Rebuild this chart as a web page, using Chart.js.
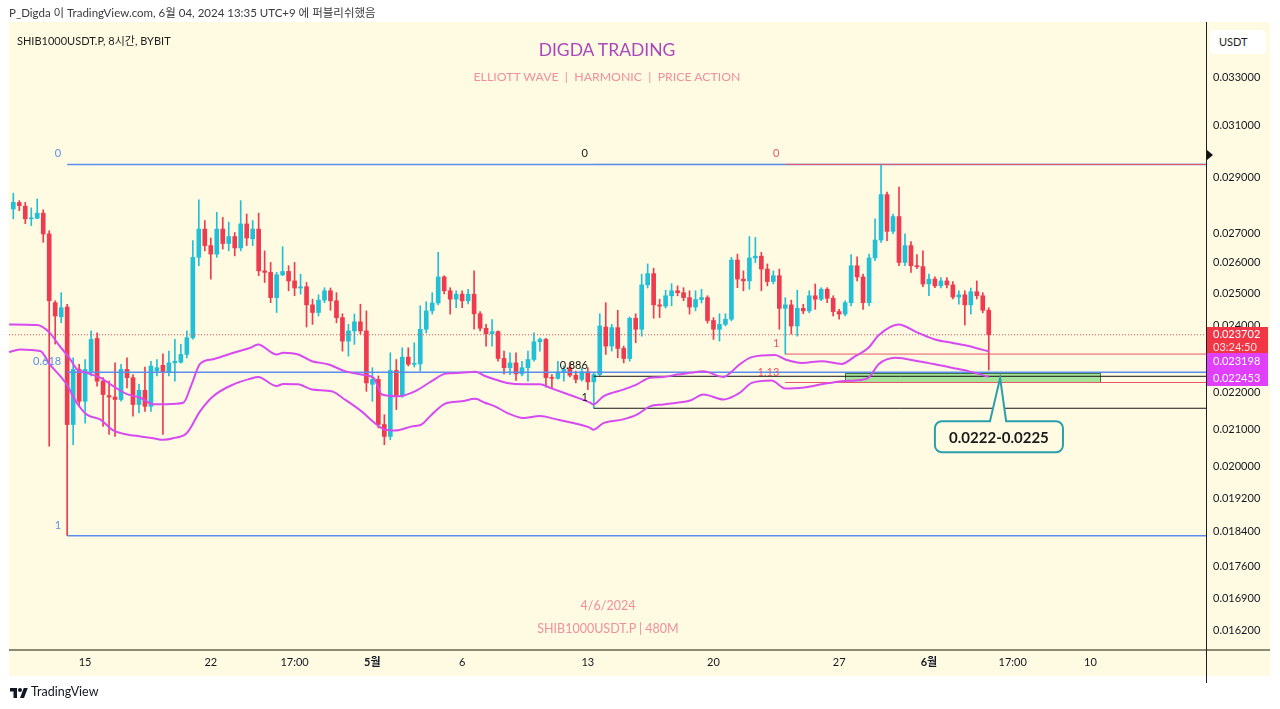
<!DOCTYPE html>
<html><head><meta charset="utf-8">
<script src="https://cdn.jsdelivr.net/npm/chart.js@4.4.1/dist/chart.umd.min.js"></script>
<style>
html,body{margin:0;padding:0;background:#fff;width:1280px;height:709px;overflow:hidden;font-family:Lato,'Noto Sans CJK KR',sans-serif;}
#wrap{position:relative;width:1280px;height:709px;}
canvas{position:absolute;left:0;top:0;}
.t{position:absolute;white-space:nowrap;line-height:1;}
.c{transform:translateX(-50%);}
</style></head><body>
<div id="wrap">
<canvas id="c" width="1280" height="709"></canvas>
<div class="t" style="left:9px;top:7px;font-size:11.5px;color:#3a3a3a">P_Digda 이 TradingView.com, 6월 04, 2024 13:35 UTC+9 에 퍼블리쉬했음</div>
<div class="t" style="left:17px;top:35px;font-size:11px;color:#1e1e1e">SHIB1000USDT.P, 8시간, BYBIT</div>
<div class="t" style="left:1210px;top:30px;width:56px;height:24px;background:#fff;border-radius:4px;font-size:11px;color:#1e1e1e;line-height:24px;text-indent:9px">USDT</div>
<div class="t c" style="left:607px;top:41px;font-size:17.5px;color:#ab47bc">DIGDA TRADING</div>
<div class="t c" style="left:607px;top:71px;font-size:12.3px;color:#f0909c">ELLIOTT WAVE &nbsp;| &nbsp;HARMONIC &nbsp;| &nbsp;PRICE ACTION</div>
<div class="t c" style="left:608px;top:600px;font-size:12.5px;color:#f0909c">4/6/2024</div>
<div class="t c" style="left:608px;top:623px;font-size:12.5px;color:#f0909c">SHIB1000USDT.P | 480M</div>
<svg class="t" style="left:10px;top:687px" width="18" height="12" viewBox="0 0 36 24"><path d="M14 22H7V9H0V2h14v20zM28 22h-8l7.5-20h8L28 22zM20 10a4 4 0 1 0 0-8 4 4 0 0 0 0 8z" fill="#131722"/></svg>
<div class="t" style="left:31px;top:686px;font-size:12.5px;color:#131722">TradingView</div>
</div>
<script>
// ---- data (8h candles, SHIB1000USDT.P) ----
const opens = [.02786,.02809,.02796,.02751,.02753,.02771,.02698,.02470,.02426,.02456,
.02112,.02267,.02176,.02262,.02359,.02233,.02192,.02188,.02181,.02267,
.02243,.02167,.02207,.02162,.02262,.02279,.02259,.02286,.02288,.02311,
.02361,.02618,.02715,.02658,.02629,.02715,.02665,.02689,.02650,.02733,
.02681,.02715,.02573,.02568,.02486,.02560,.02571,.02540,.02517,.02521,
.02463,.02439,.02478,.02508,.02476,.02423,.02351,.02382,.02410,.02382,
.02224,.02238,.02112,.02080,.02264,.02190,.02303,.02282,.02283,.02387,
.02444,.02469,.02553,.02508,.02481,.02497,.02476,.02497,.02435,.02390,
.02373,.02380,.02299,.02272,.02286,.02254,.02272,.02296,.02349,.02356,
.02243,.02241,.02260,.02272,.02250,.02238,.02260,.02231,.02252,.02394,
.02336,.02392,.02329,.02299,.02421,.02387,.02527,.02564,.02463,.02459,
.02492,.02508,.02502,.02486,.02456,.02480,.02486,.02414,.02387,.02402,
.02418,.02609,.02546,.02540,.02616,.02622,.02579,.02538,.02557,.02452,
.02463,.02397,.02452,.02444,.02492,.02481,.02513,.02484,.02442,.02434,
.02470,.02590,.02553,.02470,.02616,.02677,.02838,.02707,.02759,.02601,
.02658,.02590,.02587,.02530,.02546,.02524,.02540,.02527,.02488,.02495,
.02463,.02505,.02492,.02446];
const highs = [.02843,.02816,.02810,.02790,.02822,.02783,.02709,.02476,.02502,.02465,
.02301,.02282,.02296,.02382,.02376,.02243,.02233,.02286,.02282,.02301,
.02252,.02224,.02274,.02291,.02296,.02313,.02321,.02356,.02341,.02382,
.02675,.02819,.02745,.02684,.02774,.02756,.02739,.02703,.02816,.02768,
.02745,.02771,.02640,.02601,.02568,.02654,.02590,.02601,.02562,.02535,
.02481,.02495,.02518,.02517,.02502,.02435,.02402,.02434,.02465,.02444,
.02272,.02248,.02139,.02316,.02296,.02331,.02331,.02346,.02460,.02473,
.02502,.02635,.02557,.02518,.02508,.02508,.02513,.02573,.02442,.02402,
.02417,.02382,.02321,.02316,.02316,.02291,.02321,.02376,.02361,.02359,
.02252,.02291,.02277,.02286,.02262,.02272,.02272,.02257,.02435,.02470,
.02402,.02446,.02336,.02425,.02435,.02562,.02596,.02582,.02481,.02510,
.02531,.02524,.02518,.02508,.02508,.02513,.02492,.02423,.02435,.02435,
.02618,.02629,.02573,.02689,.02686,.02635,.02596,.02573,.02579,.02486,
.02478,.02510,.02465,.02508,.02530,.02518,.02518,.02492,.02449,.02476,
.02627,.02620,.02562,.02629,.02751,.02950,.02847,.02768,.02865,.02698,
.02672,.02627,.02640,.02562,.02553,.02551,.02551,.02538,.02508,.02508,
.02517,.02540,.02502,.02454];
const lows = [.02751,.02780,.02734,.02727,.02751,.02669,.02054,.02342,.02407,.01831,
.02058,.02162,.02116,.02248,.02219,.02107,.02085,.02080,.02176,.02214,
.02135,.02144,.02148,.02148,.02248,.02085,.02248,.02233,.02285,.02301,
.02357,.02590,.02640,.02546,.02618,.02646,.02640,.02623,.02640,.02658,
.02658,.02557,.02535,.02470,.02439,.02557,.02508,.02492,.02497,.02394,
.02402,.02428,.02470,.02446,.02407,.02321,.02306,.02341,.02372,.02204,
.02176,.02103,.02058,.02071,.02153,.02187,.02277,.02274,.02262,.02376,
.02434,.02463,.02498,.02434,.02454,.02454,.02466,.02387,.02382,.02336,
.02336,.02291,.02254,.02252,.02235,.02248,.02233,.02291,.02321,.02216,
.02214,.02239,.02233,.02245,.02228,.02233,.02209,.021566,.02248,.02311,
.02321,.02301,.02286,.02291,.02346,.02366,.02517,.02421,.02423,.02453,
.02460,.02492,.02476,.02434,.02444,.02469,.02406,.02356,.02351,.02397,
.02413,.02518,.02508,.02513,.02600,.02508,.02524,.02530,.02387,.023121,
.02372,.02366,.02435,.02438,.02449,.02476,.02470,.02428,.02418,.02428,
.02460,.02540,.02449,.02460,.02607,.02669,.02675,.02699,.02590,.02590,
.02568,.02580,.02521,.02492,.02518,.02517,.02517,.02482,.02465,.02400,
.02434,.02482,.02438,.02265];
const closes = [.02810,.02798,.02751,.02753,.02771,.02698,.02476,.02428,.02454,.02112,
.02267,.02176,.02267,.02356,.02233,.02195,.02188,.02181,.02267,.02243,
.02167,.02207,.02162,.02277,.02272,.02260,.02286,.02291,.02311,.02361,
.02618,.02715,.02658,.02629,.02715,.02665,.02689,.02650,.02733,.02684,
.02715,.02573,.02568,.02486,.02560,.02571,.02540,.02517,.02521,.02463,
.02439,.02478,.02508,.02476,.02423,.02351,.02382,.02410,.02382,.02228,
.02238,.02112,.02080,.02264,.02190,.02303,.02282,.02283,.02387,.02444,
.02469,.02553,.02508,.02481,.02497,.02476,.02497,.02435,.02390,.02373,
.02380,.02299,.02272,.02286,.02254,.02272,.02296,.02349,.02356,.02243,
.02241,.02260,.02267,.02250,.02238,.02260,.02231,.02252,.02397,.02336,
.02392,.02329,.02299,.02421,.02387,.02527,.02564,.02463,.02459,.02492,
.02508,.02502,.02486,.02456,.02480,.02486,.02414,.02387,.02402,.02418,
.02609,.02546,.02540,.02616,.02622,.02579,.02538,.02557,.02452,.02463,
.02397,.02452,.02444,.02492,.02481,.02513,.02484,.02442,.02434,.02470,
.02590,.02553,.02470,.02616,.02677,.02838,.02707,.02759,.02601,.02658,
.02590,.02587,.02530,.02546,.02524,.02540,.02527,.02488,.02495,.02463,
.02505,.02492,.02446,.023702];

// envelope indicator (candle index, value)
const upperIdx = [-0.7,4,6.1,7.5,9.5,10.6,12.3,14.5,16.7,19,21.2,23.4,25.6,28.4,29.8,31.2,33.4,36.8,39.6,40.9,44,45.1,47.6,49.9,52.6,55.4,58.2,60.2,61.6,64.3,67.1,69.9,72.1,74.9,77.2,78.8,80.5,82.5,85.2,88,89.7,93.6,96.4,96.9,98.6,101.9,104.2,106.4,108.6,110.9,113.1,115.3,118.7,119.8,121.4,123.4,127.3,129,131.8,135.1,138.4,140.7,142.9,144.6,147.9,151.2,154,156.8,159.6,163];
const upperVal = [.02402,.02400,.02376,.02342,.02297,.02268,.02257,.02243,.02219,.02196,.02186,.02168,.02168,.02172,.02224,.02283,.02297,.02316,.02331,.02341,.02311,.02316,.02311,.02291,.02282,.02262,.02252,.02243,.02195,.02190,.02204,.02233,.02254,.02257,.02260,.02248,.02238,.02228,.02224,.02224,.02214,.02190,.02172,.02167,.02190,.02209,.02224,.02243,.02245,.02252,.02257,.02262,.02245,.02257,.02282,.02303,.02309,.02296,.02286,.02291,.02283,.02306,.02331,.02369,.02402,.02376,.02356,.02346,.02336,.023198];
const lowerIdx = [-0.7,1.1,4.5,6.1,8.9,10.6,12.3,14.5,16.7,19,21.2,23.4,25.1,26.7,29,31.2,33.4,36.8,39.6,40.9,44,45.1,47.6,49.9,53.2,55.4,58.2,60.4,62.1,63.8,66.6,68.2,69.9,72.1,74.9,77.2,78.8,80.5,82.5,85.2,88,90.8,93.6,96.4,96.9,98.6,101.9,104.2,106.4,108.6,110.9,113.1,115.3,118.7,119.8,121.4,123.4,126.7,129,131.8,135.1,138.4,140.7,142.9,144.6,147.4,151.2,154,156.8,159.6,163];
const lowerVal = [.02318,.02326,.02321,.02282,.02224,.02172,.02139,.02126,.02096,.02085,.02080,.02075,.02071,.02075,.02089,.02148,.02190,.02224,.02240,.02245,.02219,.02225,.02224,.02209,.02204,.02181,.02148,.02116,.02098,.02096,.02107,.02112,.02139,.02169,.02176,.02183,.02172,.02162,.02144,.02130,.02135,.02126,.02116,.02103,.02098,.02116,.02126,.02139,.02162,.02167,.02172,.02178,.02195,.02181,.02186,.02200,.02228,.02235,.02212,.02214,.02224,.02233,.02235,.02243,.02282,.02301,.02291,.02282,.02272,.02262,.022453];

// axis ticks
const yTicks = [0.033,0.031,0.029,0.027,0.026,0.025,0.024,0.022,0.021,0.020,0.0192,0.0184,0.0176,0.0169,0.0162];
const xTickIdx = [12,33,47,60,75,96,117,138,153,167,180];
const xTickLabels = ['15','22','17:00','5월','6','13','20','27','6월','17:00','10'];
const boldLabels = ['5월','6월'];

// fibonacci retracements (high / low anchors)
const fibHigh = 0.0295;
const fibBlue = {start:9, low:0.01831, levels:[0,0.618,1]};
const fibBlack = {start:97, low:0.021566, levels:[0,0.886,1]};
const fibRed = {start:129, low:0.023121, levels:[0,1,1.13]};

const lastPrice = 0.023702, countdown = '03:24:50';
const bandLast = [0.023198, 0.022453];
const zone = {from:139, to:181.6, top:0.02256, bottom:0.02229};
const callout = {left:154, right:175.4, top:0.02121, bottom:0.02038, tipX:164.9, tipY:0.02242, baseL:163.2, baseR:165.9, text:'0.0222-0.0225'};

// axis range
const xMin = -0.72, xMax = 199.3, yMin = 0.015808, yMax = 0.035425;

// ---- build ----
const FONT = "Lato, 'Noto Sans CJK KR', sans-serif";
Chart.defaults.font.family = FONT;
const TEAL = '#22c0d6', RED = '#ee3b4f', MAG = '#d64af0';
const ids = opens.map((_, i) => i);
const colors = ids.map(i => closes[i] >= opens[i] ? TEAL : RED);
const fibPrice = (f, L) => fibHigh - L * (fibHigh - f.low);

function fibSets(f, color, width, order) {
  return f.levels.map(L => ({
    type: 'line', order,
    data: [{x: f.start, y: fibPrice(f, L)}, {x: xMax + 2, y: fibPrice(f, L)}],
    borderColor: color, borderWidth: width, pointRadius: 0, fill: false, tension: 0
  }));
}

const datasets = [
  {type:'bar', order:4, grouped:false, barThickness:1, data: ids.map(i => ({x:i, y:[lows[i], highs[i]]})), backgroundColor: colors, borderWidth:0},
  {type:'bar', order:3, grouped:false, barThickness:4, minBarLength:1, data: ids.map(i => ({x:i, y:[opens[i], closes[i]]})), backgroundColor: colors, borderWidth:0, borderSkipped:false},
  ...fibSets(fibRed, '#e85566', 1, 1.0),
  ...fibSets(fibBlue, '#5b8def', 1.5, 1.1),
  ...fibSets(fibBlack, '#151515', 1, 1.2),
  {type:'line', order:1.5, data:[{x:xMin, y:lastPrice},{x:xMax, y:lastPrice}], borderColor:'#f04a5a', borderWidth:1, borderDash:[1,2], pointRadius:0},
  {type:'line', order:0, data: upperIdx.map((x, k) => ({x, y: upperVal[k]})), borderColor: MAG, borderWidth: 2, pointRadius: 0, tension: 0.35, cubicInterpolationMode:'monotone'},
  {type:'line', order:0, data: lowerIdx.map((x, k) => ({x, y: lowerVal[k]})), borderColor: MAG, borderWidth: 2, pointRadius: 0, tension: 0.35, cubicInterpolationMode:'monotone'}
];

const overlay = {
  id: 'overlay',
  beforeDraw(chart) {
    const c = chart.ctx;
    c.save(); c.fillStyle = '#fffbe2'; c.fillRect(9, 22, 1261, 654); c.restore();
  },
  beforeDatasetsDraw(chart) {
    const c = chart.ctx, X = chart.scales.x, Y = chart.scales.y;
    const x1 = X.getPixelForValue(zone.from), x2 = X.getPixelForValue(zone.to);
    const y1 = Y.getPixelForValue(zone.top), y2 = Y.getPixelForValue(zone.bottom);
    c.save();
    c.fillStyle = '#a5e29a'; c.fillRect(x1, y1, x2 - x1, y2 - y1);
    c.strokeStyle = '#3f7a45'; c.lineWidth = 1; c.strokeRect(Math.round(x1)+0.5, Math.round(y1)+0.5, Math.round(x2-x1), Math.round(y2-y1));
    c.restore();
  },
  afterDatasetsDraw(chart) {
    const c = chart.ctx, X = chart.scales.x, Y = chart.scales.y;
    c.save();
    c.font = '11px ' + FONT; c.textAlign = 'right'; c.textBaseline = 'alphabetic';
    [[fibBlue, '#5b8def'], [fibBlack, '#151515'], [fibRed, '#e85566']].forEach(([f, col]) => {
      const xs = X.getPixelForValue(f.start) - 6;
      f.levels.forEach(L => {
        c.fillStyle = col;
        c.fillText(String(L), xs, Y.getPixelForValue(fibPrice(f, L)) - 7);
      });
    });
    // callout
    const l = X.getPixelForValue(callout.left), r = X.getPixelForValue(callout.right);
    const t = Y.getPixelForValue(callout.top), b = Y.getPixelForValue(callout.bottom);
    const tx = X.getPixelForValue(callout.tipX), ty = Y.getPixelForValue(callout.tipY);
    const bl = X.getPixelForValue(callout.baseL), br = X.getPixelForValue(callout.baseR);
    const rad = 7;
    c.beginPath();
    c.moveTo(l + rad, t); c.lineTo(bl, t); c.lineTo(tx, ty); c.lineTo(br, t); c.lineTo(r - rad, t);
    c.arcTo(r, t, r, t + rad, rad); c.lineTo(r, b - rad); c.arcTo(r, b, r - rad, b, rad);
    c.lineTo(l + rad, b); c.arcTo(l, b, l, b - rad, rad); c.lineTo(l, t + rad); c.arcTo(l, t, l + rad, t, rad);
    c.closePath();
    c.fillStyle = '#fffbe2'; c.fill();
    c.strokeStyle = '#2a9fae'; c.lineWidth = 2; c.stroke();
    c.fillStyle = '#1a1a1a'; c.font = 'bold 15px ' + FONT; c.textAlign = 'center'; c.textBaseline = 'middle';
    c.fillText(callout.text, (l + r) / 2, (t + b) / 2 + 1);
    c.restore();
  },
  afterDraw(chart) {
    const c = chart.ctx, Y = chart.scales.y;
    c.save();
    // axis separators
    c.fillStyle = '#8c8a74'; c.fillRect(9, 649, 1261, 2);
    c.fillStyle = '#1e1e1e'; c.fillRect(1206, 22, 1, 661);
    // small scale marker
    c.beginPath(); c.moveTo(1207, 150); c.lineTo(1213, 155); c.lineTo(1207, 160); c.closePath(); c.fillStyle = '#111'; c.fill();
    // price tags
    const yp = Y.getPixelForValue(lastPrice);
    const top = Math.round(yp) - 8;
    c.fillStyle = '#f23645'; c.fillRect(1207, top, 61, 26);
    c.fillStyle = '#e040fb'; c.fillRect(1207, top + 26, 61, 16); c.fillRect(1207, top + 42, 61, 17);
    c.font = '11px ' + FONT; c.textAlign = 'left'; c.textBaseline = 'middle';
    c.fillStyle = '#ffffff';
    c.fillText(lastPrice.toFixed(6), 1213, top + 7);
    c.fillStyle = 'rgba(255,255,255,0.85)';
    c.fillText(countdown, 1213, top + 20);
    c.fillStyle = '#ffffff';
    c.fillText(bandLast[0].toFixed(6), 1213, top + 34);
    c.fillText(bandLast[1].toFixed(6), 1213, top + 51);
    c.restore();
  }
};

new Chart(document.getElementById('c'), {
  type: 'bar',
  data: { datasets },
  options: {
    responsive: false, animation: false, devicePixelRatio: 1,
    layout: { padding: { left: 9, top: 22, right: 10, bottom: 33 } },
    plugins: { legend: { display: false }, tooltip: { enabled: false } },
    scales: {
      x: {
        type: 'linear', min: xMin, max: xMax, offset: false, bounds: 'data',
        grid: { display: false, drawTicks: false, offset: false }, border: { display: false },
        afterBuildTicks: s => { s.ticks = xTickIdx.map(v => ({ value: v })); },
        afterFit: s => { s.height = 26; },
        ticks: {
          autoSkip: false, maxRotation: 0, padding: 6, color: '#131722',
          font: ctx => ({ size: 11, family: FONT, weight: (ctx.tick && boldLabels.includes(ctx.tick.label)) ? 'bold' : 'normal' }),
          callback: v => { const k = xTickIdx.indexOf(v); return k >= 0 ? xTickLabels[k] : ''; }
        }
      },
      y: {
        type: 'logarithmic', position: 'right', min: yMin, max: yMax, bounds: 'data',
        grid: { display: false, drawTicks: false }, border: { display: false },
        afterBuildTicks: s => { s.ticks = yTicks.map(v => ({ value: v })); },
        afterFit: s => { s.width = 64; },
        ticks: { autoSkip: false, padding: 7, color: '#131722', font: { size: 11 }, callback: v => Number(v).toFixed(6) }
      }
    }
  },
  plugins: [overlay]
});
</script>
</body></html>
